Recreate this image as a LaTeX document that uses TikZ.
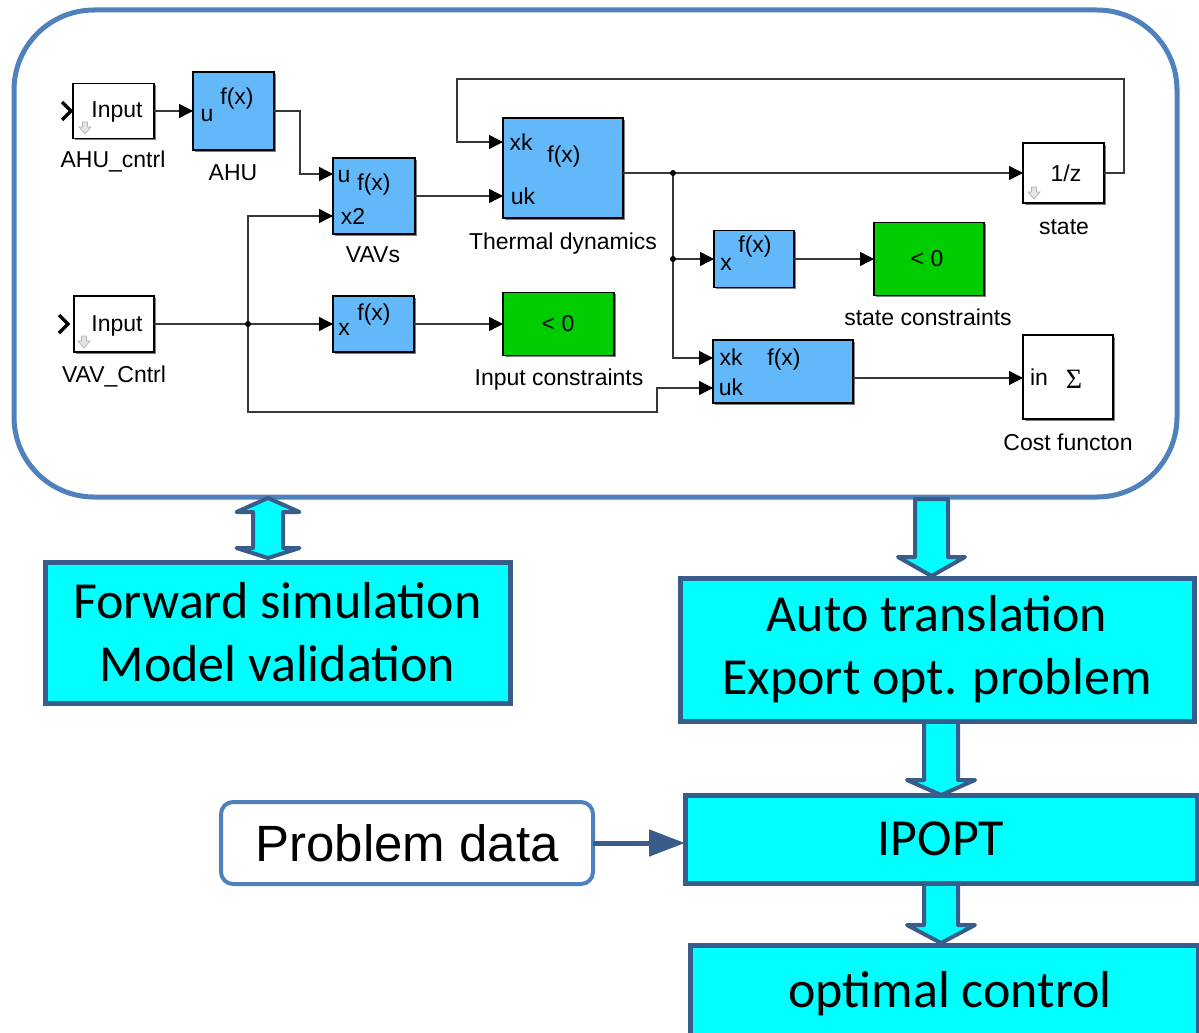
\documentclass[tikz,border=0pt]{standalone}
\usepackage{fontspec}
\newfontfamily\calfont{Carlito}
\newfontfamily\arialfont{Liberation Sans}
\newfontfamily\timesfont{Liberation Serif}
\usetikzlibrary{arrows.meta,calc,shadows}
\definecolor{bigblue}{RGB}{79,129,189}
\definecolor{dkblue}{RGB}{56,93,138}
\definecolor{aqua}{RGB}{0,255,255}
\definecolor{slblue}{RGB}{99,184,249}
\definecolor{slgreen}{RGB}{0,204,0}
\definecolor{wirec}{RGB}{55,55,55}
\begin{document}
\begin{tikzpicture}[x=1pt,y=-1pt,
  blk/.style={draw=black, line width=1.6pt, inner sep=0pt, outer sep=0pt, rectangle,
    drop shadow={shadow xshift=1.6pt,shadow yshift=-1.6pt,fill=black!50,opacity=1}},
  bluebk/.style={blk, fill=slblue},
  greenbk/.style={blk, fill=slgreen},
  whitebk/.style={blk, fill=white},
  stxt/.style={font=\arialfont\fontsize{23}{27}\selectfont, inner sep=0pt, text height=16.5pt, text depth=4.5pt},
  wire/.style={draw=wirec, line width=1.4pt},
  sig/.style={wire, -{Triangle[length=14pt,width=14pt,color=black]}},
  dot/.style={circle, fill=black, inner sep=0pt, minimum size=6pt},
  cybox/.style={draw=dkblue, fill=aqua, line width=5pt, inner sep=0pt, outer sep=0pt,
    align=center, font=\calfont\fontsize{52}{63}\selectfont},
  barrow/.style={draw=dkblue, fill=aqua, line width=4pt, line join=round},
  garrow/.pic={\draw[gray!60, fill=gray!20, line width=0.7pt] (-2.5,-6) -- (2.5,-6) -- (2.5,-1) -- (6,-1) -- (0,6) -- (-6,-1) -- (-2.5,-1) -- cycle;},
  chev/.style={draw=black, line width=3.2pt}
]
\useasboundingbox (0,0) rectangle (1199,1033);
\clip (0,0) rectangle (1199,1033);

% ---------- model frame ----------
\node[draw=bigblue, line width=5pt, rounded corners=80pt, minimum width=1163pt, minimum height=487pt, inner sep=0pt, outer sep=0pt] (model) at (595.5,253.5) {};

% ---------- Simulink blocks ----------
\node[whitebk, minimum width=81pt, minimum height=55pt] (inA) at (113.5,111) {};
\node[bluebk,  minimum width=81pt, minimum height=78pt] (ahu) at (233.5,111) {};
\node[bluebk,  minimum width=82pt, minimum height=76pt] (vavs) at (374,196) {};
\node[bluebk,  minimum width=120pt, minimum height=100pt] (therm) at (563,168) {};
\node[whitebk, minimum width=81pt, minimum height=60pt] (state) at (1063.5,173) {};
\node[bluebk,  minimum width=80pt, minimum height=57pt] (sfx) at (754,259) {};
\node[greenbk, minimum width=110pt, minimum height=73pt] (sgreen) at (929,259) {};
\node[whitebk, minimum width=80pt, minimum height=56pt] (inV) at (114,324) {};
\node[bluebk,  minimum width=81pt, minimum height=56pt] (ifx) at (373.5,324) {};
\node[greenbk, minimum width=111pt, minimum height=63pt] (igreen) at (558.5,324) {};
\node[bluebk,  minimum width=140pt, minimum height=63pt] (cfx) at (783,371.5) {};
\node[whitebk, minimum width=90pt, minimum height=84pt] (cost) at (1068,377) {};

% chevrons and icons of the inports / delay
\draw[chev] (62,102) -- (71,111) -- (62,120);
\draw[chev] (59,315) -- (68,324) -- (59,333);
\pic at (85,128) {garrow};
\pic at (84,342) {garrow};
\pic at (1034,193) {garrow};

% texts inside blocks
\node[stxt] (tinA) at (117,111) {Input};
\node[stxt] (tinV) at (117,325) {Input};
\node[stxt] (ahuu) at (207,115) {u};
\node[stxt] (ahuf) at (237,98) {f(x)};
\node[stxt] (vavu) at (344,176) {u};
\node[stxt] (vavf) at (374,184) {f(x)};
\node[stxt] (vavx) at (353,218) {x2};
\node[stxt] (thxk) at (521,144) {xk};
\node[stxt] (thf)  at (564,156) {f(x)};
\node[stxt] (thuk) at (523,198) {uk};
\node[stxt] (stz)  at (1066,175) {1/z};
\node[stxt] (sfxx) at (726,264) {x};
\node[stxt] (sfxf) at (755,246) {f(x)};
\node[stxt] (sgt)  at (927,260) {< 0};
\node[stxt] (ifxx) at (344,329) {x};
\node[stxt] (ifxf) at (374,314) {f(x)};
\node[stxt] (igt)  at (558,325) {< 0};
\node[stxt] (cfxk) at (731,359) {xk};
\node[stxt] (cfxf) at (784,359) {f(x)};
\node[stxt] (cfuk) at (731,389) {uk};
\node[stxt] (cin)  at (1039,379) {in};
\node[stxt, font=\timesfont\fontsize{28}{30}\selectfont] (csig) at (1074,382) {Σ};

% block labels
\node[stxt] (lAHUc) at (113,161) {AHU\_cntrl};
\node[stxt] (lAHU)  at (233,174) {AHU};
\node[stxt] (lVAV)  at (373,256) {VAVs};
\node[stxt] (lTh)   at (563,243) {Thermal dynamics};
\node[stxt] (lst)   at (1064,228) {state};
\node[stxt] (lsc)   at (928,319) {state constraints};
\node[stxt] (lVAVc) at (114,376) {VAV\_Cntrl};
\node[stxt] (lic)   at (559,379) {Input constraints};
\node[stxt] (lcf)   at (1068,444) {Cost functon};

% ---------- signal lines ----------
\coordinate (j1) at (673,173);
\coordinate (j2) at (673,259);
\coordinate (j3) at (248,324);
\draw[sig] (inA.east) -- (ahu.west);
\draw[sig] (ahu.east) -| (300,174) -- (vavs.west |- 0,174);
\draw[sig] (vavs.east) -- (therm.west |- vavs.east);
\draw[sig] (state.east) -- (1124,173) -- (1124,79) -- (457,79) -- (457,142) -- (therm.west |- 0,142);
\draw[sig] (therm.east |- j1) -- (state.west);
\draw[sig] (j1) |- (cfx.west |- 0,358);
\draw[sig] (j2) -- (sfx.west);
\draw[sig] (sfx.east) -- (sgreen.west);
\draw[wire] (inV.east) -- (j3);
\draw[sig] (j3) -- (ifx.west);
\draw[sig] (ifx.east) -- (igreen.west);
\draw[sig] (j3) |- (vavs.west |- 0,216);
\draw[sig] (j3) |- (657,412) |- (cfx.west |- 0,388);
\draw[sig] (cfx.east |- 0,378) -- (cost.west |- 0,378);
\node[dot] (d1) at (j1) {};
\node[dot] (d2) at (j2) {};
\node[dot] (d3) at (j3) {};

% ---------- block arrows (drawn under the boxes) ----------
\draw[barrow] (268,498) -- (299.5,512) -- (283,512) -- (283,548) -- (299.5,548) -- (268,558)
  -- (236.5,548) -- (253,548) -- (253,512) -- (236.5,512) -- cycle;
\draw[barrow] (915,499) -- (948,499) -- (948,557) -- (965,557) -- (931.5,576) -- (898,557) -- (915,557) -- cycle;
\draw[barrow] (924,721) -- (958,721) -- (958,780) -- (975,780) -- (941,795) -- (907,780) -- (924,780) -- cycle;
\draw[barrow] (924,883) -- (958,883) -- (958,925) -- (975,925) -- (941,943) -- (907,925) -- (924,925) -- cycle;

% ---------- lower boxes ----------
\node[cybox, minimum width=465pt, minimum height=141pt] (fwd) at (277.5,632.5) {Forward simulation\\Model validation};
\node[cybox, minimum width=514pt, minimum height=143pt] (auto) at (937,649.5) {Auto translation\\Export opt. problem};
\node[cybox, minimum width=512pt, minimum height=88pt] (ipopt) at (941,839) {IPOPT};
\node[cybox, minimum width=508pt, minimum height=100pt, text height=36pt, text depth=12pt] (optc) at (944,995) {\hspace*{12pt}optimal control};
\node[draw=bigblue, line width=4pt, rounded corners=12pt, minimum width=372pt, minimum height=82pt, inner sep=0pt, outer sep=0pt,
  font=\arialfont\fontsize{51}{60}\selectfont] (pd) at (407,843) {Problem data};
\draw[dkblue, line width=5pt, -{Triangle[length=36pt,width=26pt]}] (pd.east) -- (ipopt.west |- pd.east);
\end{tikzpicture}
\end{document}
